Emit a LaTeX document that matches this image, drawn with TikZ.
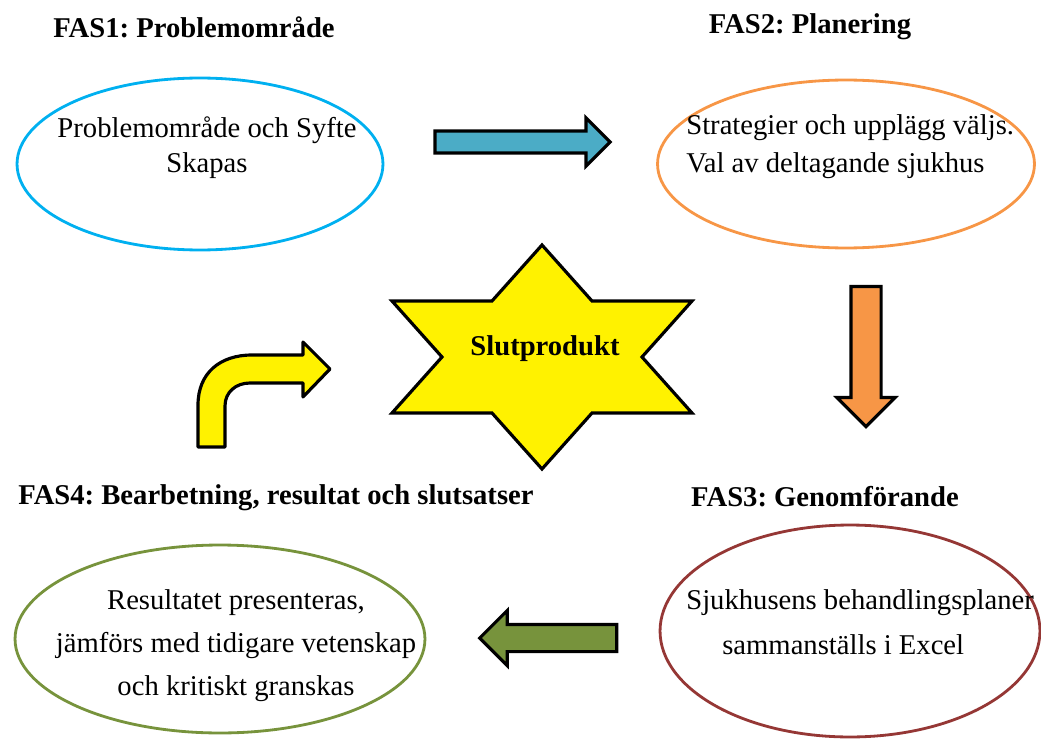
\documentclass[tikz,border=0pt]{standalone}
\usepackage{fontspec}
\setmainfont{Liberation Serif}
\frenchspacing
\usetikzlibrary{shapes.geometric,shapes.arrows}
\definecolor{fasblue}{HTML}{00B0F0}
\definecolor{fasorange}{HTML}{F79646}
\definecolor{fasred}{HTML}{953735}
\definecolor{fasgreen}{HTML}{77933C}
\definecolor{pilblue}{HTML}{4BACC6}
\begin{document}
\begin{tikzpicture}[x=0.02cm, y=-0.02cm,
    fase/.style = {ellipse, draw, line width=1.6pt, inner sep=0},
    rubrik/.style = {font=\fontsize{16.3pt}{20pt}\selectfont\bfseries, inner sep=0},
    brodtext/.style = {font=\fontsize{16.3pt}{20pt}\selectfont, inner sep=0},
    pil/.style = {single arrow, draw=black, line width=1.8pt, inner xsep=0}]
    \useasboundingbox (0,0) rectangle (1041,740);

    \node[fase, draw=fasblue,   minimum width=7.32cm, minimum height=3.44cm] (fas1) at (200,164) {};
    \node[fase, draw=fasorange, minimum width=7.54cm, minimum height=3.36cm] (fas2) at (846,164) {};
    \node[fase, draw=fasred,    minimum width=7.6cm,  minimum height=4.24cm] (fas3) at (850,631) {};
    \node[fase, draw=fasgreen,  minimum width=8.2cm,  minimum height=3.76cm] (fas4) at (220,639) {};

    \node[rubrik] (rub1) at (194,27)  {FAS1: Problemområde};
    \node[rubrik] (rub2) at (810,27)  {FAS2: Planering};
    \node[rubrik] (rub3) at (825,497) {FAS3: Genomförande};
    \node[rubrik] (rub4) at (276,498) {FAS4: Bearbetning, resultat och slutsatser};

    \node[brodtext, align=center] (txt1) at (207,148) {Problemområde och Syfte\\ Skapas};
    \node[brodtext, align=left, anchor=west] (txt2) at (686,147) {Strategier och upplägg väljs.\\[1.6pt] Val av deltagande sjukhus};
    \node[brodtext, align=left, anchor=west] (txt3) at (686,622) {Sjukhusens behandlingsplaner\\[5.6pt] \hspace*{0.72cm}sammanställs i Excel};
    \node[brodtext, align=center] (txt4) at (236,646) {Resultatet presenteras,\\[4.5pt] jämförs med tidigare vetenskap\\[4.5pt] och kritiskt granskas};

    \node[pil, fill=pilblue, inner ysep=0.19cm, single arrow head extend=0.26cm, minimum height=3.5cm] (pil1) at (517,142) {};
    \node[pil, fill=fasorange, inner ysep=0.27cm, single arrow head extend=0.28cm, minimum height=2.8cm, rotate=-90] (pil2) at (866,349) {};
    \node[pil, fill=fasgreen, inner ysep=0.24cm, single arrow head extend=0.28cm, minimum height=2.74cm, rotate=180] (pil3) at (555,638) {};

    % slutprodukt
    \draw[line width=1.8pt, fill=yellow] (542,245) -- (592,301) -- (692,301) -- (642,357) -- (692,413) -- (592,413)
        -- (542,469) -- (492,413) -- (392,413) -- (442,357) -- (392,301) -- (492,301) -- cycle;
    \node[rubrik] (slut) at (545,349) {Slutprodukt};

    \draw[line width=1.8pt, fill=yellow, line join=round] (198,447) -- (198,405) .. controls (198,373) and (220,355) .. (252,355)
        -- (303,355) -- (303,342) -- (330,369) -- (303,397) -- (303,383) -- (250,383)
        .. controls (236,383) and (225,392) .. (225,406) -- (225,447) -- cycle;
\end{tikzpicture}
\end{document}
